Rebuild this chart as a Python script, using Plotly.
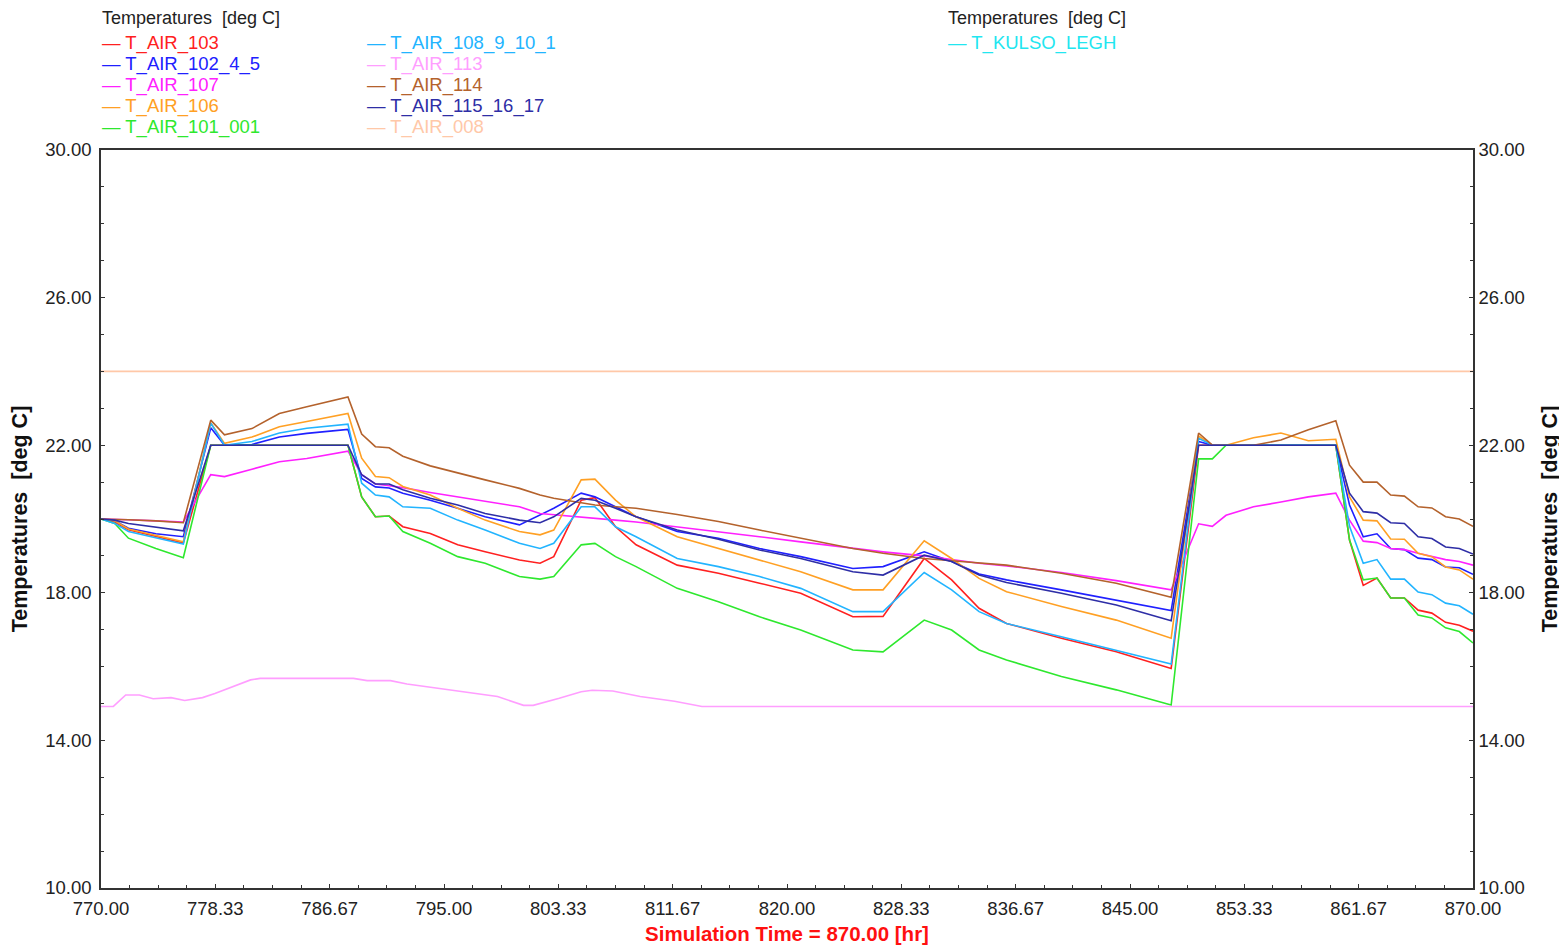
import plotly.graph_objects as go

# time grid (hours) shared by the room temperature series
hours = [770, 771, 772, 774, 776, 778, 779, 781, 783, 785,
         788, 789, 790, 791, 792, 794, 796, 798, 800.5, 802,
         803, 805, 806, 807.5, 809, 812, 815, 818, 821, 824.8,
         827, 830, 832, 834, 836, 840, 844, 848, 850, 851,
         852, 854, 856, 858, 860, 861, 862, 863, 864, 865,
         866, 867, 868, 869, 870]

t_air_103 = [20.0, 19.92, 19.71, 19.53, 19.35, 22.0, 22.0, 22.0, 22.0, 22.0,
             22.0, 20.6, 20.06, 20.08, 19.79, 19.61, 19.3, 19.11, 18.89, 18.8,
             18.98, 20.51, 20.58, 19.79, 19.3, 18.75, 18.53, 18.26, 17.99, 17.35,
             17.36, 18.93, 18.35, 17.58, 17.17, 16.77, 16.4, 15.95, 22.0, 22.0,
             22.0, 22.0, 22.0, 22.0, 22.0, 19.43, 18.2, 18.4, 17.86, 17.86,
             17.53, 17.45, 17.2, 17.12, 16.96]

t_air_102_4_5 = [20.0, 19.95, 19.75, 19.6, 19.52, 22.47, 22.0, 22.02, 22.22, 22.32,
                 22.43, 21.1, 20.87, 20.84, 20.7, 20.51, 20.29, 20.06, 19.84, 20.11,
                 20.29, 20.7, 20.6, 20.33, 20.06, 19.66, 19.48, 19.2, 18.98, 18.66,
                 18.71, 19.11, 18.85, 18.51, 18.35, 18.08, 17.8, 17.52, 22.1, 22.0,
                 22.0, 22.0, 22.0, 22.0, 22.0, 20.38, 19.52, 19.6, 19.2, 19.17,
                 18.94, 18.9, 18.7, 18.68, 18.5]

t_air_107 = [20.0, 20.0, 19.98, 19.95, 19.92, 21.2, 21.15, 21.35, 21.55, 21.64,
             21.84, 21.2, 20.95, 20.9, 20.85, 20.72, 20.6, 20.48, 20.33, 20.15,
             20.12, 20.05, 20.02, 19.97, 19.92, 19.79, 19.67, 19.52, 19.38, 19.2,
             19.11, 19.0, 18.89, 18.8, 18.73, 18.55, 18.33, 18.08, 19.87, 19.8,
             20.1, 20.33, 20.46, 20.6, 20.7, 19.97, 19.4, 19.36, 19.2, 19.17,
             19.07, 18.98, 18.9, 18.85, 18.75]

t_air_106 = [20.0, 19.95, 19.73, 19.55, 19.38, 22.6, 22.05, 22.22, 22.5, 22.64,
             22.86, 21.65, 21.15, 21.12, 20.88, 20.65, 20.29, 19.97, 19.66, 19.57,
             19.7, 21.06, 21.08, 20.51, 20.06, 19.52, 19.2, 18.89, 18.57, 18.08,
             18.08, 19.41, 18.93, 18.39, 18.03, 17.63, 17.26, 16.77, 22.25, 22.0,
             22.0, 22.2, 22.33, 22.12, 22.16, 20.6, 19.97, 19.95, 19.46, 19.45,
             19.07, 18.98, 18.7, 18.62, 18.37]

t_air_101_001 = [20.0, 19.88, 19.48, 19.2, 18.95, 22.0, 22.0, 22.0, 22.0, 22.0,
                 22.0, 20.6, 20.06, 20.08, 19.66, 19.34, 18.98, 18.8, 18.44, 18.37,
                 18.44, 19.3, 19.34, 18.98, 18.71, 18.12, 17.76, 17.35, 16.99, 16.45,
                 16.4, 17.26, 16.99, 16.45, 16.18, 15.73, 15.37, 14.96, 21.63, 21.63,
                 22.0, 22.0, 22.0, 22.0, 22.0, 19.43, 18.35, 18.4, 17.86, 17.86,
                 17.4, 17.32, 17.05, 16.95, 16.64]

t_air_108_9_10_1 = [20.0, 19.88, 19.66, 19.48, 19.32, 22.6, 22.0, 22.1, 22.33, 22.46,
                    22.57, 20.97, 20.65, 20.6, 20.33, 20.29, 19.97, 19.7, 19.34, 19.2,
                    19.34, 20.33, 20.33, 19.79, 19.52, 18.93, 18.71, 18.44, 18.12, 17.49,
                    17.49, 18.55, 18.08, 17.49, 17.17, 16.81, 16.45, 16.07, 22.19, 22.0,
                    22.0, 22.0, 22.0, 22.0, 22.0, 19.8, 18.8, 18.9, 18.37, 18.37,
                    18.02, 17.95, 17.72, 17.65, 17.42]

t_air_114 = [20.0, 20.0, 19.98, 19.95, 19.9, 22.68, 22.28, 22.45, 22.86, 23.04,
             23.31, 22.3, 21.96, 21.93, 21.7, 21.44, 21.24, 21.06, 20.83, 20.65,
             20.56, 20.43, 20.38, 20.33, 20.29, 20.12, 19.93, 19.7, 19.48, 19.2,
             19.07, 18.93, 18.87, 18.8, 18.75, 18.53, 18.26, 17.88, 22.33, 22.0,
             22.0, 22.0, 22.14, 22.42, 22.66, 21.46, 21.0, 21.0, 20.65, 20.62,
             20.33, 20.3, 20.06, 20.0, 19.8]

t_air_115_16_17 = [20.0, 19.97, 19.88, 19.78, 19.68, 22.0, 22.0, 22.0, 22.0, 22.0,
                   22.0, 21.2, 20.95, 20.95, 20.79, 20.56, 20.38, 20.15, 19.97, 19.9,
                   20.06, 20.56, 20.51, 20.29, 20.06, 19.7, 19.45, 19.16, 18.93, 18.57,
                   18.48, 19.02, 18.85, 18.48, 18.28, 17.99, 17.67, 17.24, 22.0, 22.0,
                   22.0, 22.0, 22.0, 22.0, 22.0, 20.7, 20.2, 20.16, 19.9, 19.88,
                   19.52, 19.47, 19.24, 19.2, 19.05]

# T_AIR_113 has its own time points
hours_113 = [770, 770.9, 771.8, 772.8, 773.8, 775.1, 776.1, 777.4, 778.3, 779.6,
             780.9, 781.6, 788.4, 789.4, 791.1, 792.3, 793.6, 795.6, 798.9, 800.8,
             801.5, 803.4, 805.0, 805.8, 807.3, 809.3, 811.8, 813.8, 870]
t_air_113 = [14.92, 14.92, 15.23, 15.23, 15.13, 15.16, 15.08, 15.16, 15.27, 15.45,
             15.64, 15.68, 15.68, 15.62, 15.62, 15.53, 15.46, 15.36, 15.19, 14.95,
             14.95, 15.14, 15.32, 15.36, 15.34, 15.19, 15.06, 14.92, 14.92]

hours_008 = [770, 870]
t_air_008 = [24.0, 24.0]

# outside air: below the 10 degC axis floor, so it stays off-scale
hours_kulso = [770, 790, 805, 830, 858, 870]
t_kulso_legh = [4.0, 2.5, 6.0, 3.0, 7.5, 4.0]

x_ticks = [770 + i * 100 / 12 for i in range(13)]

# plot area in page pixels (the page body adds an 8px offset)
OFF = 8
L, R, T, B = 101, 1473, 150, 888
W, H = 1567, 949


def px_x(px):
    return (px - L) / (R - L)


def px_y(py):
    return (B - py) / (B - T)


col1 = [
    ("T_AIR_103", hours, t_air_103, "#FF2020"),
    ("T_AIR_102_4_5", hours, t_air_102_4_5, "#2020FF"),
    ("T_AIR_107", hours, t_air_107, "#FF20FF"),
    ("T_AIR_106", hours, t_air_106, "#FFA024"),
    ("T_AIR_101_001", hours, t_air_101_001, "#2EE82E"),
]
col2 = [
    ("T_AIR_108_9_10_1", hours, t_air_108_9_10_1, "#22B4FF"),
    ("T_AIR_113", hours_113, t_air_113, "#FF9EFF"),
    ("T_AIR_114", hours, t_air_114, "#B4622C"),
    ("T_AIR_115_16_17", hours, t_air_115_16_17, "#2E2EA6"),
    ("T_AIR_008", hours_008, t_air_008, "#FFC8A8"),
]

fig = go.Figure()

for name, xs, ys, color in col1 + col2:
    fig.add_trace(go.Scatter(x=xs, y=ys, name=name, mode="lines",
                             line=dict(color=color, width=1.6),
                             showlegend=False))

fig.add_trace(go.Scatter(x=hours_kulso, y=t_kulso_legh, name="T_KULSO_LEGH",
                         mode="lines", line=dict(color="#22E6F0", width=1.6),
                         yaxis="y2", showlegend=False))

# legend text, TRNSYS style: coloured dash + coloured name
font = "Liberation Sans, Arial, sans-serif"
annotations = []
for x0, title in [(101, "Temperatures  [deg C]"), (947, "Temperatures  [deg C]")]:
    annotations.append(dict(x=px_x(x0), y=px_y(18), xref="paper", yref="paper",
                            text=title, showarrow=False, xanchor="left",
                            yanchor="middle", borderpad=0,
                            font=dict(size=18, color="#222")))

for x0, col in [(101, col1), (366, col2),
                (947, [("T_KULSO_LEGH", None, None, "#22E6F0")])]:
    for i, (name, _, _, color) in enumerate(col):
        annotations.append(dict(x=px_x(x0), y=px_y(43 + 21 * i),
                                xref="paper", yref="paper",
                                text="\u2014 " + name, showarrow=False,
                                xanchor="left", yanchor="middle", borderpad=0,
                                font=dict(size=18.5, color=color)))

axis_common = dict(showgrid=False, zeroline=False, showline=True,
                   linecolor="#333", linewidth=1.5, automargin=False,
                   ticks="inside", ticklen=4, tickcolor="#333",
                   tickfont=dict(size=18.5, color="#222"))

fig.update_layout(
    width=W, height=H,
    margin=dict(l=L - OFF, r=W + OFF - R, t=T - OFF, b=H + OFF - B),
    paper_bgcolor="white", plot_bgcolor="white",
    font=dict(family=font),
    showlegend=False,
    annotations=annotations,
    xaxis=dict(range=[770, 870], tickmode="array", tickvals=x_ticks,
               ticktext=[f"{v:.2f}" for v in x_ticks], mirror=True,
               ticklabelstandoff=3,
               minor=dict(tick0=770, dtick=100 / 48, ticks="inside",
                          ticklen=3, tickcolor="#333"),
               title=dict(text="<b>Simulation Time = 870.00 [hr]</b>",
                          font=dict(size=20.5, color="#FF1010"), standoff=9),
               **axis_common),
    yaxis=dict(range=[10, 30], tickmode="linear", tick0=10, dtick=4,
               tickformat=".2f", ticklabelstandoff=4,
               minor=dict(tick0=10, dtick=1, ticks="inside", ticklen=3,
                          tickcolor="#333"),
               title=dict(text="<b>Temperatures  [deg C]</b>",
                          font=dict(size=21.5, color="#111"), standoff=16),
               **axis_common),
    yaxis2=dict(range=[10, 30], tickmode="linear", tick0=10, dtick=4,
                tickformat=".2f", overlaying="y", side="right",
                minor=dict(tick0=10, dtick=1, ticks="inside", ticklen=3,
                           tickcolor="#333"),
                title=dict(text="<b>Temperatures  [deg C]</b>",
                           font=dict(size=21.5, color="#111"), standoff=18),
                **axis_common),
)

fig.write_html("out.html")
